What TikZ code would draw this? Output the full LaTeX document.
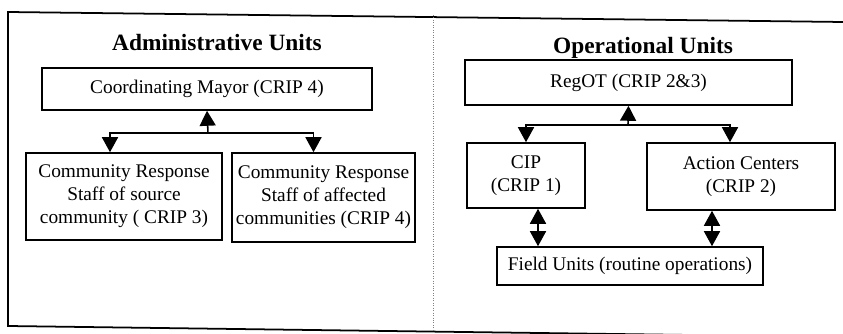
\documentclass[tikz,border=0pt]{standalone}
\usepackage{fontspec}
\setmainfont{Liberation Serif}
\usetikzlibrary{arrows.meta,calc}

\begin{document}
\begin{tikzpicture}[x=0.02cm, y=-0.02cm, font=\fontsize{11}{13}\selectfont,
  every node/.style={align=center}]
\tikzset{
  unit/.style={draw, line width=0.9pt, inner sep=2pt},
  heading/.style={font=\fontsize{13.3}{16}\selectfont\bfseries},
  tip/.style={-{Triangle[length=0.3cm,width=0.32cm]}, line width=0.9pt},
  dtip/.style={{Triangle[length=0.3cm,width=0.32cm]}-{Triangle[length=0.3cm,width=0.32cm]}, line width=0.9pt}
}
  \useasboundingbox (0,0) rectangle (843,334);

  % frame
  \draw[line width=1pt] (843,22) -- (8,12) -- (8,326) -- (843,337);
  \draw[densely dotted, gray] (433,15) -- (433,331);

  % Administrative units
  \node[heading] (admtitle) at (217,43) {Administrative Units};
  \node[unit, minimum width=6.6cm, minimum height=0.84cm] (mayor) at (207,89) {Coordinating Mayor (CRIP 4)};
  \node[unit, minimum width=3.92cm, minimum height=1.74cm] (srcstaff) at (124,196.5)
    {Community Response\\Staff of source\\community ( CRIP 3)};
  \node[unit, minimum width=3.66cm, minimum height=1.78cm] (affstaff) at (323.5,197.5)
    {Community Response\\Staff of affected\\communities (CRIP 4)};
  \coordinate (admjoin) at (208,133);
  \draw[tip] (admjoin) -- (mayor.south);
  \draw[tip] (admjoin) -| ($(srcstaff.north)+(-14,0)$);
  \draw[tip] (admjoin) -| ($(affstaff.north)+(-10,0)$);

  % Operational units
  \node[heading] (optitle) at (643,48) {Operational Units};
  \node[unit, minimum width=6.54cm, minimum height=0.9cm] (regot) at (628.5,82.5) {RegOT (CRIP 2\&3)};
  \node[unit, minimum width=2.36cm, minimum height=1.3cm] (cip) at (526,175.5) {CIP\\(CRIP 1)};
  \node[unit, minimum width=3.76cm, minimum height=1.34cm] (action) at (741,176.5) {Action Centers\\(CRIP 2)};
  \node[unit, minimum width=5.32cm, minimum height=0.76cm] (field) at (630,266) {Field Units (routine operations)};
  \coordinate (opjoin) at (628,125);
  \draw[tip] (opjoin) -- (regot.south);
  \draw[tip] (opjoin) -| (cip.north);
  \draw[tip] (opjoin) -| ($(action.north)+(-11,0)$);
  \path (cip.south) ++(12,0) coordinate (cipfoot);
  \path (action.south) ++(-29,0) coordinate (actfoot);
  \draw[dtip] (cipfoot) -- (cipfoot |- field.north);
  \draw[dtip] (actfoot) -- (actfoot |- field.north);
\end{tikzpicture}
\end{document}
